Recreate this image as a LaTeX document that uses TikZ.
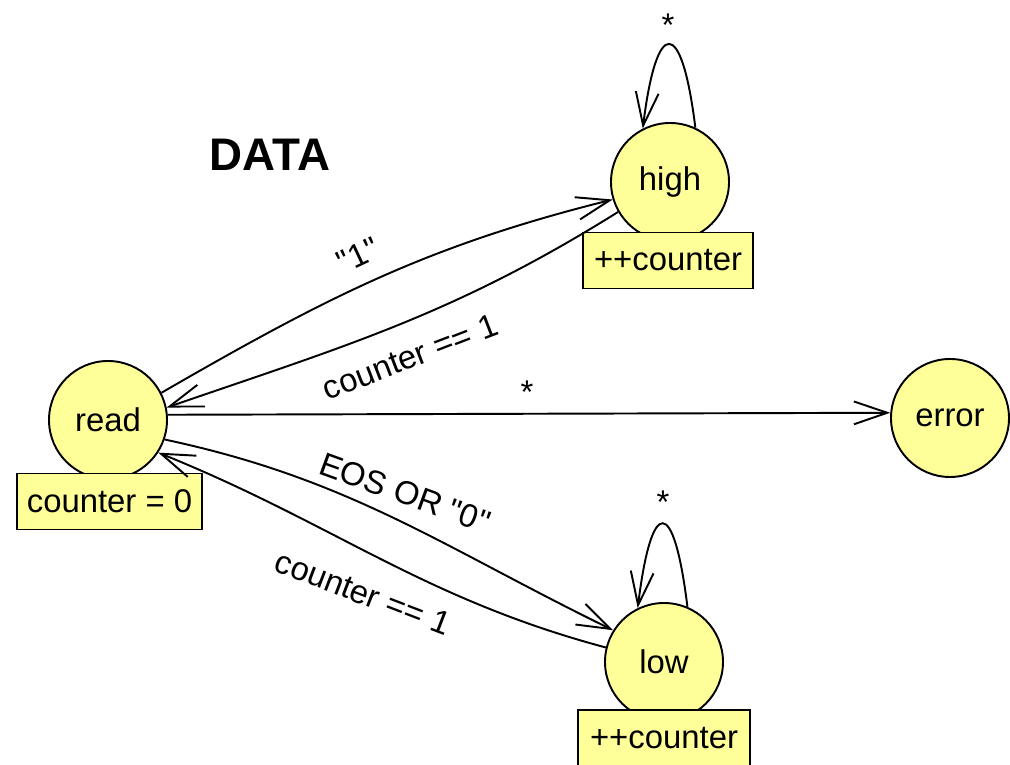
\documentclass[tikz,border=0pt]{standalone}
\usepackage{fontspec}
\setmainfont{Liberation Sans}[Ligatures=TeXOff]
\usetikzlibrary{arrows.meta}
\definecolor{ylw}{RGB}{255,255,153}

\begin{document}
\begin{tikzpicture}[>={Straight Barb[length=19pt,width=13pt]},line width=1.1pt,
 font=\fontsize{18.7}{22}\selectfont,
 stt/.style={circle,draw,fill=ylw,minimum size=2.36cm,inner sep=0pt},
 act/.style={draw,fill=ylw,minimum height=1.12cm,inner sep=2pt},
 lbl/.style={inner sep=1pt}]
\useasboundingbox (0,0) rectangle (20.2,15.3);
\node[font=\fontsize{26}{30}\selectfont\bfseries] (title) at (5.4,12.2) {DATA};
% states
\node[stt] (read) at (2.16,6.90) {read};
\node[act,minimum width=3.7cm] (readbox) at (2.19,5.27) {counter = 0};
\node[stt] (high) at (13.4,11.66) {high};
\node[act,minimum width=3.4cm] (highbox) at (13.36,10.09) {++counter};
\node[stt] (low) at (13.28,2.06) {low};
\node[act,minimum width=3.44cm] (lowbox) at (13.28,0.54) {++counter};
\node[stt] (error) at (19.0,6.94) {error};
% transitions
\draw[->] (read.27) to[out=30,in=194] (high.197);
\draw[->] (high.210) to[out=212,in=19] (read.12);
\draw[->] (read.5) -- (error.175);
\draw[->] (read.341) to[out=-12,in=154] (low.148);
\draw[->] (low.166) to[out=165,in=-22] (read.327);
\draw[->] (high.65) .. controls +(97:2.25cm) and +(83:2.25cm) .. (high.117);
\draw[->] (low.67) .. controls +(97:2.25cm) and +(83:2.25cm) .. (low.116);
% labels
\node[lbl,rotate=25] (t1) at (7.16,10.2) {"1"};
\node[lbl,rotate=21] (t2) at (8.2,8.16) {counter == 1};
\node[lbl] (t3) at (10.54,7.46) {*};
\node[lbl,rotate=-20] (t4) at (8.1,5.44) {EOS OR "0"};
\node[lbl,rotate=-21] (t5) at (7.26,3.44) {counter == 1};
\node[lbl] (t6) at (13.36,14.8) {*};
\node[lbl] (t7) at (13.26,5.26) {*};
\end{tikzpicture}
\end{document}
